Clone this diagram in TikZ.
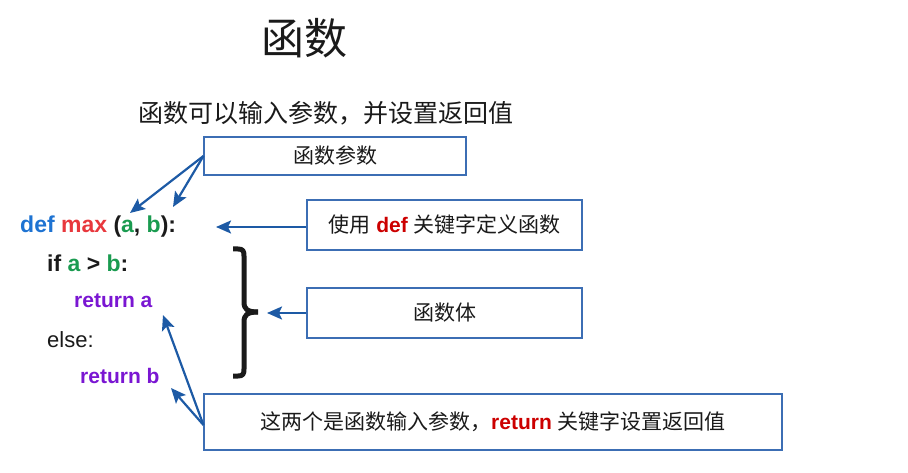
\documentclass[tikz,border=0pt]{standalone}
\usepackage{fontspec}
\setmainfont{Liberation Sans}
\newfontfamily\cjk{Noto Sans CJK SC}
\usetikzlibrary{arrows.meta}
\definecolor{kwblue}{HTML}{1E73D2}
\definecolor{fnred}{HTML}{E8383D}
\definecolor{argreen}{HTML}{1A9B50}
\definecolor{retpurple}{HTML}{7A16D2}
\definecolor{txtred}{HTML}{CC0000}
\definecolor{boxblue}{HTML}{3C6EB4}
\definecolor{arrowblue}{HTML}{1D5AA5}
\definecolor{ink}{HTML}{1A1A1A}
\begin{document}
\begin{tikzpicture}[x=1pt,y=-1pt,
  box/.style={draw=boxblue,line width=1.1pt,inner sep=0pt,text=ink,
    font=\fontsize{21}{21}\selectfont},
  arr/.style={draw=arrowblue,line width=2.2pt,-{Stealth[length=15pt,width=13pt,inset=3pt]}},
  code/.style={anchor=base west,inner sep=0pt,text=ink,
    font=\fontsize{23}{23}\selectfont\bfseries},
  retcode/.style={code,text=retpurple,font=\fontsize{21}{21}\selectfont\bfseries},
  bracestyle/.style={draw=ink,line width=5pt,line cap=butt,line join=round}]
\useasboundingbox (0,0) rectangle (908,473);
% title
\node[text=ink,font=\fontsize{43}{43}\selectfont\cjk] (title) at (304,38) {函数};
\node[text=ink,font=\fontsize{25}{25}\selectfont\cjk] (sub) at (326,113) {函数可以输入参数，并设置返回值};
% code
\node[code] (l1) at (20,233) {\textcolor{kwblue}{def} \textcolor{fnred}{max} (\textcolor{argreen}{a}, \textcolor{argreen}{b}):};
\node[code] (l2) at (47,272) {if \textcolor{argreen}{a} > \textcolor{argreen}{b}:};
\node[retcode] (l3) at (74,308) {return a};
\node[code,font=\fontsize{22}{22}\selectfont] (l4) at (47,347) {else:};
\node[retcode] (l5) at (80,383) {return b};
% boxes
\node[box,minimum width=262pt,minimum height=38pt] (pbox) at (335,156) {\cjk 函数参数};
\node[box,minimum width=275pt,minimum height=50pt] (dbox) at (444.5,225)
  {{\cjk 使用} \textcolor{txtred}{\bfseries def} {\cjk 关键字定义函数}};
\node[box,minimum width=275pt,minimum height=50pt] (bbox) at (444.5,313) {\cjk 函数体};
\node[box,minimum width=578pt,minimum height=56pt] (rbox) at (493,422)
  {{\cjk 这两个是函数输入参数，}\textcolor{txtred}{\bfseries return} {\cjk 关键字设置返回值}};
% brace
\draw[bracestyle] (233,249) -- (238,249) .. controls (243,249) and (244,251) .. (244,256)
  -- (244,302) .. controls (244,309) and (247,312) .. (258,312);
\draw[bracestyle] (258,312) .. controls (247,312) and (244,315) .. (244,322)
  -- (244,369) .. controls (244,374) and (243,376) .. (238,376) -- (233,376);
% arrow targets
\coordinate (ta) at (130,213);
\coordinate (tb) at (173,207);
\coordinate (tdef) at (216,227);
\coordinate (tbody) at (267,313);
\coordinate (tra) at (163,315);
\coordinate (trb) at (171,388);
\coordinate (rs) at ([yshift=-3pt]rbox.west);
% arrows
\draw[arr] (pbox.west) -- (ta);
\draw[arr] (pbox.west) -- (tb);
\draw[arr] ([yshift=-2pt]dbox.west) -- (tdef);
\draw[arr] (bbox.west) -- (tbody);
\draw[arr] (rs) -- (tra);
\draw[arr] (rs) -- (trb);
\end{tikzpicture}
\end{document}
